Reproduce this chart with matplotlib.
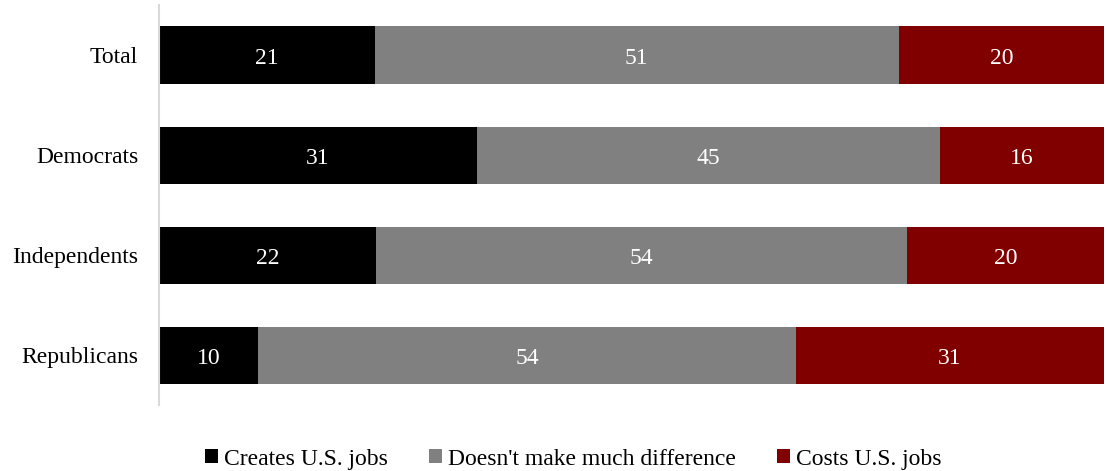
import numpy as np
import matplotlib.pyplot as plt

plt.rcParams['font.family'] = ['Liberation Serif', 'DejaVu Serif']

groups = ['Total', 'Democrats', 'Independents', 'Republicans']
creates = np.array([21, 31, 22, 10])
no_diff = np.array([51, 45, 54, 54])
costs = np.array([20, 16, 20, 31])

series = [
    ('Creates U.S. jobs', creates, '#000000'),
    ("Doesn't make much difference", no_diff, '#808080'),
    ('Costs U.S. jobs', costs, '#800000'),
]

# bars fill the full width (100% stacked)
totals = creates + no_diff + costs

fig = plt.figure(figsize=(11.07, 4.71), dpi=100)
ax = fig.add_axes([0.1436, 0.140, 0.8537, 0.8494])

y = np.arange(len(groups))
left = np.zeros(len(groups))
for name, vals, col in series:
    w = vals / totals * 100
    ax.barh(y, w, left=left, height=0.57, color=col, label=name)
    for yi, li, wi, v in zip(y, left, w, vals):
        ax.text(li + wi / 2, yi + 0.03, str(v), ha='center', va='center',
                color='white', fontsize=17)
    left = left + w

ax.set_xlim(0, 100)
ax.set_ylim(3.5, -0.5)
ax.set_yticks(y)
ax.set_yticklabels(groups, fontsize=17)
ax.tick_params(axis='y', length=0, pad=15)
ax.set_xticks([])
for s in ['top', 'right', 'bottom']:
    ax.spines[s].set_visible(False)
ax.spines['left'].set_color('#d9d9d9')
ax.spines['left'].set_linewidth(1.5)

fig.legend(loc='center', bbox_to_anchor=(0.518, 0.025), ncol=3, frameon=False,
           fontsize=17, handlelength=0.55, handleheight=0.55, handletextpad=0.25,
           columnspacing=1.75)

fig.savefig('out.png', dpi=100)
